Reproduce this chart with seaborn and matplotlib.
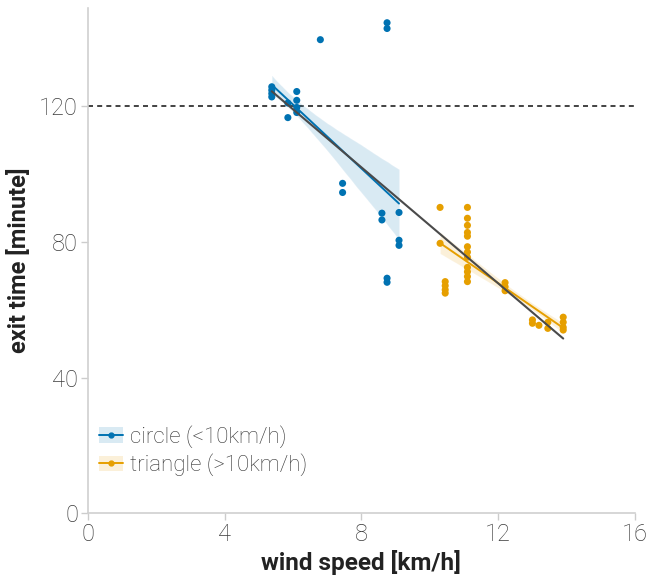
import numpy as np
import pandas as pd
import matplotlib
matplotlib.use("Agg")
import matplotlib.pyplot as plt
import seaborn as sns
from matplotlib.lines import Line2D
from matplotlib.patches import Patch

# ---- data ----
circle_wind = [5.38, 5.38, 5.38, 5.38, 5.85, 5.85, 6.11, 6.11, 6.11, 6.11,
               6.8, 7.45, 7.45, 8.6, 8.6, 8.75, 8.75, 8.75, 8.75, 9.1, 9.1, 9.1]
circle_time = [125.8, 124.8, 123.8, 122.8, 121.0, 116.7, 124.4, 121.8, 119.7, 118.2,
               139.7, 97.3, 94.6, 88.5, 86.5, 144.7, 143.0, 69.3, 68.1, 88.7, 80.5, 79.0]
triangle_wind = [10.3, 10.3, 10.45, 10.45, 10.45, 10.45,
                 11.1, 11.1, 11.1, 11.1, 11.1, 11.1, 11.1, 11.1, 11.1, 11.1, 11.1, 11.1,
                 12.2, 12.2, 12.2, 13.0, 13.0, 13.19, 13.45, 13.45, 13.9, 13.9, 13.9, 13.9]
triangle_time = [90.2, 79.6, 68.3, 67.1, 65.9, 64.9,
                 90.2, 87.0, 84.9, 82.8, 81.7, 78.6, 77.0, 75.5, 72.5, 71.2, 69.8, 68.3,
                 68.0, 66.8, 65.6, 57.0, 56.0, 55.4, 56.3, 54.5, 57.8, 56.3, 54.8, 54.0]
labels = ["circle (<10km/h)", "triangle (>10km/h)"]
threshold = 120
x_ticks = [0, 4, 8, 12, 16]
y_ticks = [0, 40, 80, 120]

df = pd.DataFrame({
    "wind": circle_wind + triangle_wind,
    "time": circle_time + triangle_time,
    "group": [labels[0]] * len(circle_wind) + [labels[1]] * len(triangle_wind),
})

sns.set_style("white")
plt.rcParams["font.family"] = ["Roboto", "DejaVu Sans"]

blue = "#0072B2"
orange = "#E69F00"
colors = {labels[0]: blue, labels[1]: orange}

fig = plt.figure(figsize=(6.5, 5.83), dpi=100)
ax = fig.add_axes([0.135, 0.12, 0.842, 0.866])

ax.axhline(threshold, color="#222222", lw=1.2, ls=(0, (3, 2.5)), zorder=1)

for g in labels:
    sub = df[df["group"] == g]
    sns.regplot(data=sub, x="wind", y="time", ax=ax, color=colors[g], ci=75, seed=3,
                scatter_kws=dict(s=26, alpha=1, edgecolor="none", zorder=3),
                line_kws=dict(lw=1.4, zorder=4))

sns.regplot(data=df, x="wind", y="time", ax=ax, scatter=False, ci=None,
            color="#4a4a4a", line_kws=dict(lw=1.5, zorder=5))

ax.set_xlim(0, 16)
ax.set_ylim(0, 149)
ax.set_xticks(x_ticks)
ax.set_yticks(y_ticks)
ax.set_xlabel("wind speed [km/h]", fontsize=17.5, fontweight="bold", color="#222222", labelpad=3)
ax.set_ylabel("exit time [minute]", fontsize=17, fontweight="bold", color="#222222", labelpad=6)
ax.tick_params(axis="both", which="both", length=5, width=1, color="#cccccc",
               labelsize=17, labelcolor="#3a3a3a", direction="out", bottom=True, left=True, pad=2)
for lab in ax.get_xticklabels() + ax.get_yticklabels():
    lab.set_fontweight("light")
for s in ["top", "right"]:
    ax.spines[s].set_visible(False)
for s in ["left", "bottom"]:
    ax.spines[s].set_color("#d0d0d0")
    ax.spines[s].set_linewidth(1.2)

handles = []
for g in labels:
    c = colors[g]
    handles.append((Patch(facecolor=c, alpha=0.15, edgecolor="none"),
                    Line2D([], [], color=c, lw=1.4, marker="o", markersize=3.5)))
leg = ax.legend(handles, labels, loc="lower left", bbox_to_anchor=(0.005, 0.055),
                frameon=False, fontsize=16, handlelength=1.05, handletextpad=0.35,
                labelspacing=0.25, borderaxespad=0)
for t in leg.get_texts():
    t.set_color("#333333")
    t.set_fontweight("light")

fig.savefig("out.png", dpi=100)
